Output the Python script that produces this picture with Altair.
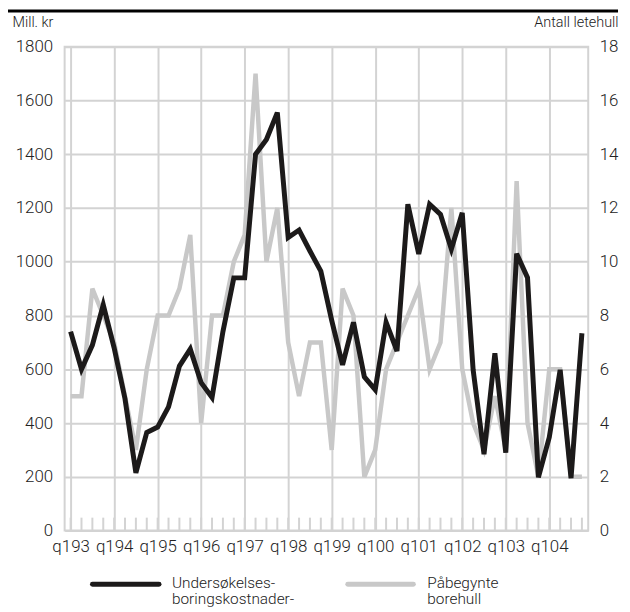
import json
import altair as alt
import pandas as pd

# ---------------- data ----------------
year_labels = ["q193", "q194", "q195", "q196", "q197", "q198",
               "q199", "q100", "q101", "q102", "q103", "q104"]

# Undersøkelsesboringskostnader, mill. kr (left axis), quarterly 1993Q1-2004Q4
kostnader = [740, 600, 690, 840, 680, 490, 215, 365, 385, 460, 612, 675,
             550, 495, 740, 940, 940, 1400, 1455, 1555, 1090, 1118, 1040, 965,
             782, 616, 775, 572, 524, 775, 668, 1214, 1029, 1214, 1176, 1047,
             1182, 598, 284, 660, 290, 1030, 941, 198, 347, 598, 195, 734]

# Påbegynte borehull, antall (right axis)
borehull = [5, 5, 9, 8, 7, 5, 3, 6, 8, 8, 9, 11,
            4, 8, 8, 10, 11, 17, 10, 12, 7, 5, 7, 7,
            3, 9, 8, 2, 3, 6, 7, 8, 9, 6, 7, 12,
            6, 4, 3, 5, 3, 13, 4, 2, 6, 6, 2, 2]

series_names = ["Undersøkelses-\nboringskostnader-", "Påbegynte\nborehull"]
left_title = "Mill. kr"
right_title = "Antall letehull"

# ---------------- styling ----------------
n = len(kostnader)
df = pd.DataFrame({"i": list(range(n)), "kostnader": kostnader, "borehull": borehull})

W, H = 527, 487
GRID = "#d3d3d3"
BLACK = "#1c1a1a"
GRAY = "#c8c8c8"
FONT = "Roboto"
TXT = "#222222"

x_scale = alt.Scale(domain=[-0.55, 47.58], nice=False, zero=False)
label_expr = json.dumps(year_labels) + "[round(datum.value / 4)]"

x_axis = alt.Axis(values=list(range(0, n, 4)), labelExpr=label_expr, grid=True,
                  gridColor=GRID, gridWidth=2, domain=False, ticks=False,
                  labelFontSize=17, labelPadding=8, labelColor=TXT, labelFont=FONT,
                  labelFontWeight=300, labelOverlap=False, labelFlush=False, title=None)

X = alt.X("i:Q", scale=x_scale, axis=x_axis)

minor = alt.Chart(df).mark_rule(color=GRID, strokeWidth=2).encode(
    x=X, y=alt.value(H - 13), y2=alt.value(H))

gray_line = alt.Chart(df).mark_line(color=GRAY, strokeWidth=4.5).encode(
    x=X,
    y=alt.Y("borehull:Q", scale=alt.Scale(domain=[0, 18], nice=False),
            axis=alt.Axis(orient="right", values=list(range(0, 19, 2)), grid=False,
                          domain=False, ticks=False, labelFontSize=17, labelPadding=11,
                          labelColor=TXT, labelFont=FONT, labelFontWeight=300,
                          format="d",
                          title=right_title, titleAngle=0, titleAlign="right",
                          titleBaseline="alphabetic", titleX=30, titleY=-20,
                          titleFontSize=14.5, titleFontWeight=300, titleFont=FONT,
                          titleColor=TXT)))

black_line = alt.Chart(df).mark_line(color=BLACK, strokeWidth=5).encode(
    x=X,
    y=alt.Y("kostnader:Q", scale=alt.Scale(domain=[0, 1800], nice=False),
            axis=alt.Axis(orient="left", values=list(range(0, 1801, 200)), grid=True,
                          gridColor=GRID, gridWidth=2, domain=False, ticks=False,
                          labelFontSize=17, labelPadding=12, labelColor=TXT,
                          labelFont=FONT, labelFontWeight=300, format="d",
                          title=left_title, titleAngle=0, titleAlign="left",
                          titleBaseline="alphabetic", titleX=-53, titleY=-20,
                          titleFontSize=14.5, titleFontWeight=300, titleFont=FONT,
                          titleColor=TXT)))

one = pd.DataFrame({"name": [series_names[0]]})
two = pd.DataFrame({"name": [series_names[1]]})

leg_rule1 = alt.Chart(one).mark_rule(color=BLACK, strokeWidth=5, strokeCap="round").encode(
    x=alt.value(28), x2=alt.value(95), y=alt.value(541))
leg_rule2 = alt.Chart(two).mark_rule(color=GRAY, strokeWidth=5, strokeCap="round").encode(
    x=alt.value(285), x2=alt.value(351), y=alt.value(541))
leg_text1 = alt.Chart(one).mark_text(align="left", baseline="alphabetic", lineBreak="\n",
                                     lineHeight=16, fontSize=15.5, font=FONT, color=TXT,
                                     fontWeight=300).encode(
    text="name:N", x=alt.value(108), y=alt.value(545))
leg_text2 = alt.Chart(two).mark_text(align="left", baseline="alphabetic", lineBreak="\n",
                                     lineHeight=16, fontSize=15.5, font=FONT, color=TXT,
                                     fontWeight=300).encode(
    text="name:N", x=alt.value(365), y=alt.value(545))

top_rule = alt.Chart(one).mark_rule(color="black", strokeWidth=3).encode(
    x=alt.value(-57), x2=alt.value(557), y=alt.value(-36))

chart = alt.layer(minor, gray_line, black_line, leg_rule1, leg_rule2,
                  leg_text1, leg_text2, top_rule).resolve_scale(
    y="independent").properties(
    width=W, height=H, autosize="none",
    padding={"left": 57, "top": 37, "right": 34, "bottom": 80},
    background="white").configure_view(stroke=GRID, strokeWidth=2)

chart.save("out.html", embed_options={"renderer": "svg", "actions": False})
